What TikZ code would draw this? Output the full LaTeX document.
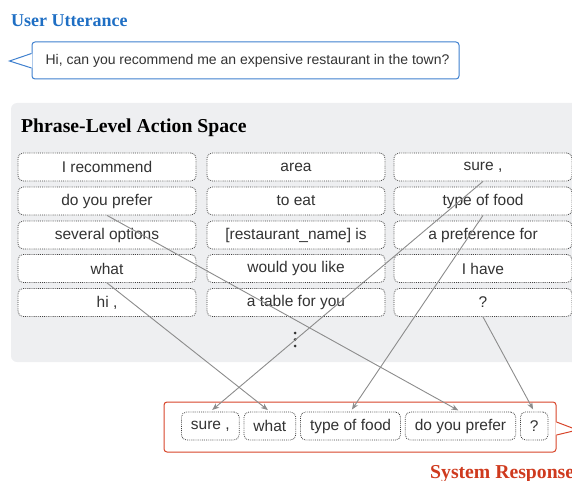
\documentclass[tikz,border=0pt]{standalone}
\usepackage{fontspec}
\setmainfont{Liberation Serif}
\setsansfont{Liberation Sans}
\usepackage{xcolor}
\usetikzlibrary{arrows.meta,positioning,calc}

\definecolor{headblue}{HTML}{1F6FC4}
\definecolor{bubbleblue}{HTML}{3F80CF}
\definecolor{headred}{HTML}{CF3A1E}
\definecolor{bubblered}{HTML}{D8452A}
\definecolor{panelgray}{HTML}{EEEFF1}
\definecolor{arrowgray}{HTML}{8C8C8C}

\begin{document}
\begin{tikzpicture}[x=1pt, y=-1pt,
  phrase/.style={draw=black!75, dash pattern=on 0.8pt off 1.1pt, line width=0.8pt,
    rounded corners=5pt, fill=white, minimum height=28pt, inner xsep=9.5pt, inner ysep=0pt,
    font=\sffamily\fontsize{15.5}{18}\selectfont, text=black!80},
  cell/.style={phrase, minimum width=178pt},
  word/.style={phrase},
  heading/.style={anchor=base west, inner sep=0pt, font=\bfseries\fontsize{18}{20}\selectfont},
  bubble/.style={line width=1pt, rounded corners=3pt, fill=white, inner sep=0pt},
  ptr/.style={-{Stealth[length=7pt,width=5.5pt]}, draw=arrowgray, line width=0.9pt, shorten >=2.5pt}
]
\clip (0,0) rectangle (572,481);

% user side
\node[heading, text=headblue] (userlbl) at (11,27) {User Utterance};
\node[bubble, draw=bubbleblue, minimum width=427pt, minimum height=37pt,
  font=\sffamily\fontsize{14}{16}\selectfont, text=black!80] (utt) at (245.5,60.5)
  {\hspace*{4pt}Hi, can you recommend me an expensive restaurant in the town?};
\fill[white] ($(utt.west)+(0.8,-7)$) -- ($(utt.west)+(-22,0.5)$) -- ($(utt.west)+(0.8,7.5)$) -- cycle;
\draw[bubbleblue, line width=1pt] ($(utt.west)+(0,-7)$) -- ++(-22,7.5) -- ($(utt.west)+(0,7.5)$);

% action space
\fill[panelgray, rounded corners=6pt] (11,103) rectangle (600,362);
\node[heading, font=\bfseries\fontsize{19.7}{22}\selectfont] (spacelbl) at (21,133) {Phrase-Level Action Space};

\node[cell] (recommend) at (107,167) {I recommend};
\node[cell] (area) at (296,167) {area};
\node[cell] (sure) at (483,167) {sure ,};
\node[cell] (prefer) at (107,201) {do you prefer};
\node[cell] (eat) at (296,201) {to eat};
\node[cell] (food) at (483,201) {type of food};
\node[cell] (options) at (107,235) {several options};
\node[cell] (rname) at (296,235) {[restaurant\_name] is};
\node[cell] (preference) at (483,235) {a preference for};
\node[cell] (what) at (107,268.5) {what};
\node[cell] (like) at (296,268.5) {would you like};
\node[cell] (have) at (483,268.5) {I have};
\node[cell] (hi) at (107,302.5) {hi ,};
\node[cell] (table) at (296,302.5) {a table for you};
\node[cell] (qmark) at (483,302.5) {?};

\foreach \y in {333,339.5,346}
  \fill[black!80] (295,\y) circle (1.5pt);

% system side
\node[bubble, draw=bubblered, minimum width=392pt, minimum height=50pt] (sys) at (360,427) {};
\fill[white] ($(sys.east)+(-0.8,-5)$) -- ($(sys.east)+(21,3)$) -- ($(sys.east)+(-0.8,8)$) -- cycle;
\draw[bubblered, line width=1pt] ($(sys.east)+(0,-5)$) -- ++(21,8) -- ($(sys.east)+(0,8)$);

\node[word, anchor=west] (w1) at (181,426) {sure ,};
\node[word, right=4pt of w1] (w2) {what};
\node[word, right=4pt of w2] (w3) {type of food};
\node[word, right=4pt of w3] (w4) {do you prefer};
\node[word, right=4pt of w4] (w5) {?};

\node[heading, text=headred, font=\bfseries\fontsize{19.7}{22}\selectfont] (syslbl) at (430,478) {System Response};

\draw[ptr] (sure.south) -- (w1.north);
\draw[ptr] (what.south) -- (w2.north);
\draw[ptr] (food.south) -- (w3.north);
\draw[ptr] (prefer.south) -- (w4.north);
\draw[ptr] (qmark.south) -- (w5.north);
\end{tikzpicture}
\end{document}
